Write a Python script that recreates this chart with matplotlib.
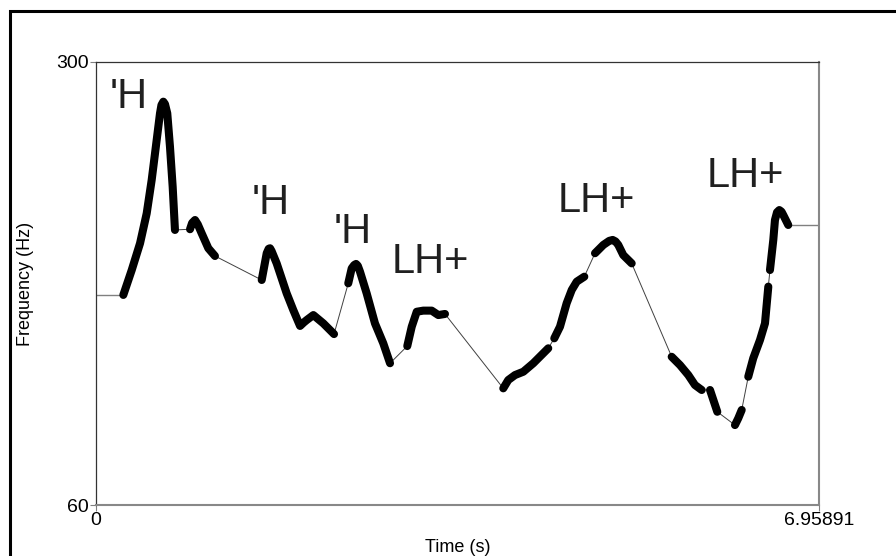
# Pitch contour (Praat-style drawing) with tone labels
# -----------------------------------------------------------------------------

import matplotlib.pyplot as plt
from matplotlib.patches import Rectangle

plt.rcParams['font.family'] = ['Liberation Sans', 'DejaVu Sans']

# Data
# -----------------------------------------------------------------------------

t_min, t_max = 0.0, 6.95891
f_min, f_max = 60, 300

# voiced stretches of the pitch track: (time in s, frequency in Hz)
seg_times = [
    [0.263, 0.344, 0.424, 0.488, 0.536, 0.584, 0.616, 0.630, 0.648, 0.664, 0.686,
     0.712, 0.738, 0.760],
    [0.905, 0.925, 0.953, 0.980, 1.017, 1.081, 1.145],
    [1.595, 1.643, 1.662, 1.675, 1.690, 1.739, 1.835, 1.899, 1.964, 2.000, 2.028,
     2.092, 2.188, 2.291],
    [2.428, 2.461, 2.485, 2.503, 2.520, 2.541, 2.605, 2.685, 2.765, 2.830],
    [2.996, 3.039, 3.087, 3.150, 3.231, 3.295, 3.359],
    [3.920, 3.968, 4.033, 4.113, 4.209, 4.353],
    [4.411, 4.466, 4.530, 4.579, 4.627, 4.700],
    [4.803, 4.883, 4.940, 4.973, 5.000, 5.027, 5.075, 5.156],
    [5.541, 5.621, 5.701, 5.765, 5.830],
    [5.910, 5.942, 5.980],
    [6.150, 6.182, 6.215],
    [6.278, 6.326, 6.391, 6.439, 6.471],
    [6.487, 6.519, 6.535, 6.555, 6.577, 6.598, 6.615, 6.663],
]
seg_freqs = [
    [173.8, 187.3, 201.8, 218.0, 236.1, 257.7, 272.2, 276.7, 278.5, 277.2, 272.2,
     254.1, 232.4, 209.0],
    [209.4, 212.8, 214.4, 212.0, 207.2, 199.1, 194.9],
    [181.9, 196.4, 198.8, 199.1, 197.6, 190.9, 174.7, 165.6, 157.0, 158.9, 160.2,
     162.9, 158.4, 152.6],
    [180.1, 188.2, 190.0, 190.6, 189.6, 186.4, 174.7, 158.4, 147.6, 136.8],
    [146.1, 156.6, 164.7, 165.3, 165.3, 162.9, 163.5],
    [123.2, 127.7, 130.4, 132.2, 136.8, 144.9],
    [150.3, 156.6, 169.3, 176.5, 181.0, 183.7],
    [196.4, 200.9, 203.1, 203.6, 202.8, 200.9, 195.4, 190.9],
    [140.3, 135.8, 130.4, 125.0, 122.3],
    [122.3, 116.9, 110.5],
    [103.3, 107.0, 111.5],
    [129.5, 139.5, 149.4, 158.4, 178.3],
    [187.3, 203.6, 214.4, 218.6, 219.8, 218.9, 217.1, 211.7],
]

# tone labels and where they sit (left edge, baseline)
tone_labels = ["'H", "'H", "'H", "LH+", "LH+", "LH+"]
tone_t = [0.130, 1.500, 2.290, 2.850, 4.440, 5.880]
tone_f = [275.0, 217.7, 201.9, 185.7, 218.7, 232.3]


# Plot
# -----------------------------------------------------------------------------

fig = plt.figure(figsize=(8.96, 5.56), dpi=100)
ax = fig.add_axes([96/896, 51/556, 723/896, 443/556])

# outer frame of the picture (only left and top visible)
fig.patches.append(Rectangle((9.5/896, -0.1), 1.2, 1.1 - 10.5/556,
                             transform=fig.transFigure, fill=False,
                             edgecolor='black', lw=2.2))

# flat extensions to the edges of the time range
ax.plot([t_min, seg_times[0][0]], [seg_freqs[0][0]] * 2, color='#808080', lw=1.0)
ax.plot([seg_times[-1][-1], t_max], [seg_freqs[-1][-1]] * 2, color='#808080', lw=1.0)

# thin line through the whole track, across unvoiced gaps
all_t = [t for seg in seg_times for t in seg]
all_f = [f for seg in seg_freqs for f in seg]
ax.plot(all_t, all_f, color='#404040', lw=0.7, zorder=2)

# thick voiced stretches
for ts, fs in zip(seg_times, seg_freqs):
    ax.plot(ts, fs, color='black', lw=5.8, solid_capstyle='round',
            solid_joinstyle='round', zorder=3)

for lab, t, f in zip(tone_labels, tone_t, tone_f):
    ax.text(t, f, lab, fontsize=30, color='#202020', ha='left', va='baseline')

ax.set_xlim(t_min, t_max)
ax.set_ylim(f_min, f_max)
ax.set_xticks([t_min, t_max])
ax.set_xticklabels(['0', '6.95891'])
ax.set_yticks([f_min, f_max])
ax.set_yticklabels(['60', '300'])
ax.tick_params(direction='out', length=4, width=0.8, color='#808080',
               labelsize=14, pad=1)
ax.set_xlabel('Time (s)', fontsize=13, labelpad=7)
ax.set_ylabel('Frequency (Hz)', fontsize=13, labelpad=16)

ax.spines['top'].set_color('#333333')
ax.spines['left'].set_color('#333333')
ax.spines['top'].set_linewidth(0.9)
ax.spines['left'].set_linewidth(0.9)
ax.spines['right'].set_color('#888888')
ax.spines['bottom'].set_color('#888888')
ax.spines['right'].set_linewidth(1.5)
ax.spines['bottom'].set_linewidth(1.5)

fig.savefig('out.png', dpi=100)
